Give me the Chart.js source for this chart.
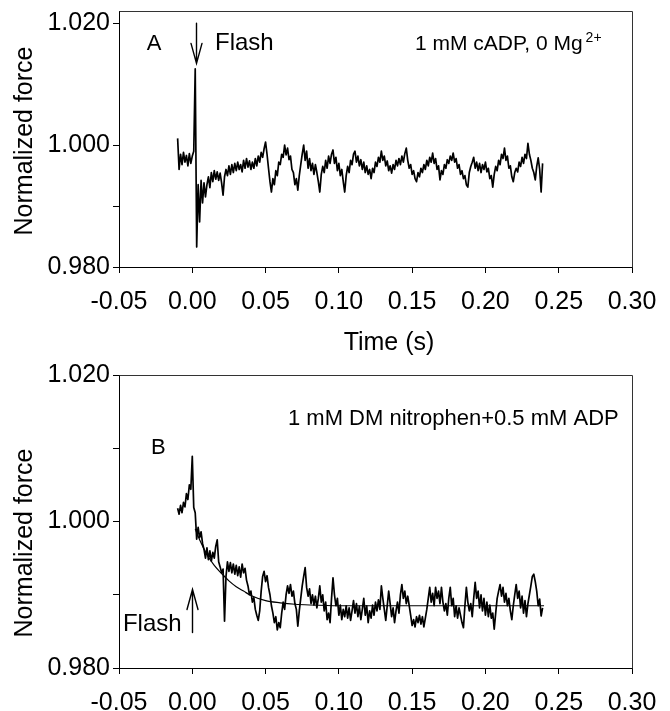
<!DOCTYPE html>
<html><head><meta charset="utf-8">
<script src="https://cdn.jsdelivr.net/npm/chart.js@4.4.1/dist/chart.umd.min.js"></script>
<style>
html,body{margin:0;padding:0;background:#fff;}
#wrap{width:670px;height:711px;position:relative;overflow:hidden;}
canvas{display:block;}
</style></head><body>
<div id="wrap">
<canvas id="cA" width="670" height="362"></canvas>
<canvas id="cB" width="670" height="349"></canvas>
</div>
<script>
// ---------- data ----------
const xTicks = [-0.05, 0, 0.05, 0.10, 0.15, 0.20, 0.25, 0.30];
const xTickLabels = ['-0.05','0.00','0.05','0.10','0.15','0.20','0.25','0.30'];
const yTicksA = [0.98, 0.99, 1.00, 1.02];
const yTickLabelsA = ['0.980','','1.000','1.020'];
const yTicksB = [0.98, 0.99, 1.00, 1.01, 1.02];
const yTickLabelsB = ['0.980','','1.000','','1.020'];

const traceStartA = -0.010, traceStepA = 0.001;
const forceA = [
1.0011,0.9960,0.9985,0.9968,0.9988,0.9972,0.9983,0.9966,0.9986,0.9970,
0.9982,0.9990,1.0125,0.9833,0.9935,0.9874,0.9942,0.9905,0.9938,0.9915,
0.9935,0.9948,0.9930,0.9955,0.9940,0.9958,0.9944,0.9956,0.9942,0.9954,
0.9938,0.9918,0.9948,0.9960,0.9950,0.9966,0.9952,0.9968,0.9955,0.9970,
0.9958,0.9972,0.9960,0.9968,0.9956,0.9975,0.9962,0.9978,0.9964,0.9974,
0.9960,0.9972,0.9962,0.9978,0.9966,0.9982,0.9972,0.9988,0.9980,0.9994,
1.0005,0.9985,0.9962,0.9940,0.9923,0.9945,0.9935,0.9958,0.9950,0.9972,
0.9968,0.9985,0.9980,1.0000,0.9984,0.9995,0.9976,0.9982,0.9960,0.9955,
0.9935,0.9945,0.9926,0.9950,0.9968,0.9985,1.0000,0.9975,0.9990,0.9962,
0.9978,0.9958,0.9970,0.9952,0.9968,0.9955,0.9940,0.9923,0.9952,0.9965,
0.9955,0.9975,0.9962,0.9982,0.9970,0.9985,0.9992,0.9970,0.9980,0.9958,
0.9970,0.9950,0.9960,0.9940,0.9923,0.9950,0.9965,0.9955,0.9975,0.9968,
0.9985,0.9990,0.9972,0.9982,0.9966,0.9976,0.9960,0.9972,0.9955,0.9966,
0.9952,0.9960,0.9945,0.9962,0.9955,0.9972,0.9965,0.9980,0.9972,0.9990,
0.9975,0.9982,0.9966,0.9974,0.9958,0.9966,0.9954,0.9968,0.9960,0.9975,
0.9966,0.9978,0.9968,0.9982,0.9972,0.9986,0.9995,0.9975,0.9962,0.9968,
0.9952,0.9958,0.9945,0.9940,0.9955,0.9948,0.9962,0.9955,0.9968,0.9960,
0.9975,0.9966,0.9980,0.9972,0.9987,0.9970,0.9978,0.9960,0.9966,0.9943,
0.9958,0.9952,0.9968,0.9962,0.9976,0.9970,0.9982,0.9975,0.9987,0.9972,
0.9978,0.9962,0.9968,0.9952,0.9958,0.9945,0.9950,0.9935,0.9931,0.9955,
0.9965,0.9972,0.9980,0.9962,0.9972,0.9958,0.9970,0.9955,0.9968,0.9960,
0.9972,0.9956,0.9962,0.9945,0.9950,0.9931,0.9952,0.9965,0.9958,0.9975,
0.9968,0.9985,0.9978,0.9995,0.9975,0.9982,0.9962,0.9966,0.9948,0.9940,
0.9955,0.9962,0.9956,0.9972,0.9965,0.9980,0.9970,0.9985,0.9978,1.0003,
0.9985,0.9975,0.9962,0.9955,0.9943,0.9965,0.9979,0.9960,0.9923,0.9970
];

const traceStartB = -0.010, traceStepB = 0.001;
const forceB = [
1.0018,1.0010,1.0022,1.0012,1.0026,1.0020,1.0038,1.0030,1.0050,1.0044,
1.0089,1.0019,1.0012,0.9976,0.9992,0.9978,0.9986,0.9970,0.9962,0.9950,
0.9964,0.9948,0.9960,0.9946,0.9958,0.9950,0.9966,0.9975,0.9945,0.9938,
0.9930,0.9935,0.9864,0.9925,0.9945,0.9932,0.9944,0.9930,0.9942,0.9928,
0.9940,0.9926,0.9938,0.9924,0.9942,0.9930,0.9936,0.9920,0.9912,0.9900,
0.9905,0.9890,0.9896,0.9880,0.9872,0.9865,0.9878,0.9905,0.9925,0.9932,
0.9918,0.9926,0.9910,0.9900,0.9885,0.9875,0.9862,0.9870,0.9852,0.9862,
0.9855,0.9875,0.9890,0.9880,0.9900,0.9912,0.9902,0.9914,0.9898,0.9905,
0.9888,0.9880,0.9857,0.9878,0.9895,0.9912,0.9925,0.9937,0.9910,0.9898,
0.9908,0.9888,0.9900,0.9886,0.9898,0.9882,0.9895,0.9912,0.9890,0.9900,
0.9878,0.9890,0.9866,0.9875,0.9862,0.9895,0.9923,0.9900,0.9885,0.9895,
0.9872,0.9886,0.9866,0.9880,0.9870,0.9885,0.9868,0.9882,0.9865,0.9878,
0.9892,0.9875,0.9888,0.9870,0.9884,0.9866,0.9880,0.9895,0.9872,0.9885,
0.9862,0.9878,0.9868,0.9886,0.9872,0.9890,0.9878,0.9893,0.9880,0.9912,
0.9895,0.9880,0.9865,0.9885,0.9905,0.9888,0.9870,0.9882,0.9862,0.9878,
0.9890,0.9875,0.9900,0.9914,0.9895,0.9905,0.9888,0.9898,0.9885,0.9872,
0.9858,0.9866,0.9856,0.9870,0.9862,0.9872,0.9860,0.9870,0.9856,0.9868,
0.9880,0.9895,0.9910,0.9890,0.9902,0.9885,0.9910,0.9895,0.9905,0.9888,
0.9910,0.9890,0.9878,0.9888,0.9872,0.9895,0.9910,0.9885,0.9895,0.9870,
0.9885,0.9868,0.9882,0.9872,0.9862,0.9855,0.9885,0.9910,0.9890,0.9878,
0.9888,0.9870,0.9895,0.9917,0.9895,0.9905,0.9882,0.9900,0.9878,0.9895,
0.9872,0.9890,0.9870,0.9886,0.9868,0.9875,0.9853,0.9875,0.9895,0.9905,
0.9914,0.9898,0.9910,0.9890,0.9902,0.9885,0.9895,0.9878,0.9866,0.9885,
0.9900,0.9914,0.9895,0.9905,0.9882,0.9898,0.9875,0.9892,0.9870,0.9888,
0.9900,0.9912,0.9925,0.9928,0.9918,0.9905,0.9885,0.9894,0.9871,0.9882
];

const fitTimeB  = [0.002,0.005,0.010,0.015,0.020,0.025,0.030,0.035,0.040,0.050,0.060,0.070,0.080,0.100,0.150,0.200,0.240];
const fitForceB = [0.9990,0.9975,0.9955,0.9940,0.9929,0.9919,0.9911,0.9905,0.9899,0.9892,0.9889,0.9887,0.9886,0.9885,0.9885,0.9885,0.9885];

// ---------- rendering ----------
const FONT = '"Liberation Sans", Arial, Helvetica, sans-serif';

function toPoints(start, step, arr) {
  return arr.map((v, i) => ({ x: +(start + i * step).toFixed(4), y: v }));
}

function makeScales(yTicks, yLabels, yMin, yMax, xHeight) {
  return {
    x: {
      type: 'linear', min: -0.05, max: 0.30,
      afterBuildTicks: s => { s.ticks = xTicks.map(v => ({ value: v })); },
      afterFit: s => { s.height = xHeight; s.paddingLeft = 0; s.paddingRight = 0; },
      ticks: { callback: (v, i) => xTickLabels[i], font: { family: FONT, size: 25 }, color: '#000', padding: 14, maxRotation: 0, autoSkip: false },
      grid: { drawOnChartArea: false, drawTicks: true, tickLength: 6, color: '#000', lineWidth: 1 },
      border: { display: true, color: '#000', width: 1 }
    },
    y: {
      type: 'linear', min: yMin, max: yMax,
      afterBuildTicks: s => { s.ticks = yTicks.map(v => ({ value: v })); },
      afterFit: s => { s.width = 119; s.paddingTop = 0; s.paddingBottom = 0; },
      ticks: { callback: (v, i) => yLabels[i], font: { family: FONT, size: 25 }, color: '#000', padding: 3, autoSkip: false },
      grid: { drawOnChartArea: false, drawTicks: true, tickLength: 6, color: '#000', lineWidth: 1 },
      border: { display: true, color: '#000', width: 1 }
    }
  };
}

const annotPlugin = {
  id: 'annot',
  afterDraw(chart, args, opts) {
    const { ctx, chartArea: ca } = chart;
    const xs = chart.scales.x, ys = chart.scales.y;
    ctx.save();
    // top & right frame
    ctx.strokeStyle = '#333'; ctx.lineWidth = 1;
    ctx.beginPath();
    const L = Math.round(ca.left) + 0.5, R = Math.round(ca.right) + 0.5;
    const T = Math.round(ca.top) + 0.5, B = Math.round(ca.bottom) + 0.5;
    ctx.moveTo(L, T); ctx.lineTo(R, T); ctx.lineTo(R, B);
    ctx.stroke();
    ctx.fillStyle = '#000';
    // texts in data coordinates
    (opts.texts || []).forEach(it => {
      ctx.font = it.size + 'px ' + FONT;
      ctx.textAlign = it.align || 'left';
      ctx.textBaseline = 'alphabetic';
      const px = xs.getPixelForValue(it.t), py = ys.getPixelForValue(it.v);
      ctx.fillText(it.text, px, py);
      if (it.sup) {
        const w = ctx.measureText(it.text).width;
        ctx.font = it.supSize + 'px ' + FONT;
        ctx.textAlign = 'left';
        ctx.fillText(it.sup, px + w + 3, py - it.supRise);
      }
    });
    // arrows
    ctx.strokeStyle = '#000'; ctx.lineWidth = 1.4; ctx.lineCap = 'round';
    (opts.arrows || []).forEach(a => {
      const px = Math.round(xs.getPixelForValue(a.t)) + 0.5;
      const y0 = ys.getPixelForValue(a.from), y1 = ys.getPixelForValue(a.to);
      const dir = y1 > y0 ? 1 : -1;
      ctx.beginPath();
      ctx.moveTo(px, y0); ctx.lineTo(px, y1);
      ctx.moveTo(px - 5.5, y1 - dir * 20); ctx.lineTo(px, y1); ctx.lineTo(px + 5.5, y1 - dir * 20);
      ctx.stroke();
    });
    // axis titles (canvas coords)
    (opts.titles || []).forEach(tt => {
      ctx.save();
      ctx.font = tt.size + 'px ' + FONT;
      ctx.textAlign = 'center'; ctx.textBaseline = 'middle';
      ctx.translate(tt.x, tt.y);
      if (tt.rot) ctx.rotate(-Math.PI / 2);
      ctx.fillText(tt.text, 0, 0);
      ctx.restore();
    });
    ctx.restore();
  }
};

const commonOpts = {
  responsive: false, animation: false, devicePixelRatio: 1,
  plugins: { legend: { display: false }, tooltip: { enabled: false } }
};

new Chart(document.getElementById('cA'), {
  type: 'line',
  data: { datasets: [{
    data: toPoints(traceStartA, traceStepA, forceA),
    borderColor: '#000', borderWidth: 1.7, pointRadius: 0, tension: 0, borderJoinStyle: 'round', fill: false
  }]},
  options: Object.assign({}, commonOpts, {
    layout: { padding: { left: 0, right: 38, top: 11, bottom: 0 } },
    scales: makeScales(yTicksA, yTickLabelsA, 0.98, 1.022, 95),
    plugins: Object.assign({}, commonOpts.plugins, {
      annot: {
        texts: [
          { t: -0.0261, v: 1.01557, text: 'A', size: 22, align: 'center' },
          { t: 0.0155, v: 1.01557, text: 'Flash', size: 24, align: 'left' },
          { t: 0.1519, v: 1.01557, text: '1 mM cADP, 0 Mg', size: 21, align: 'left', sup: '2+', supSize: 14, supRise: 8 }
        ],
        arrows: [ { t: 0.0025, from: 1.0200, to: 1.0134 } ],
        titles: [
          { text: 'Normalized force', x: 25, y: 141, rot: true, size: 25 },
          { text: 'Time (s)', x: 389, y: 343, size: 25 }
        ]
      }
    })
  }),
  plugins: [annotPlugin]
});

new Chart(document.getElementById('cB'), {
  type: 'line',
  data: { datasets: [
    { data: toPoints(traceStartB, traceStepB, forceB),
      borderColor: '#000', borderWidth: 1.7, pointRadius: 0, tension: 0, borderJoinStyle: 'round', fill: false },
    { data: fitTimeB.map((t, i) => ({ x: t, y: fitForceB[i] })),
      borderColor: '#000', borderWidth: 1.2, pointRadius: 0, cubicInterpolationMode: 'monotone', fill: false }
  ]},
  options: Object.assign({}, commonOpts, {
    layout: { padding: { left: 0, right: 38, top: 13, bottom: 0 } },
    scales: makeScales(yTicksB, yTickLabelsB, 0.98, 1.02, 43),
    plugins: Object.assign({}, commonOpts.plugins, {
      annot: {
        texts: [
          { t: 0.0653, v: 1.01324, text: '1 mM DM nitrophen+0.5 mM ADP', size: 22, align: 'left' },
          { t: -0.0231, v: 1.00924, text: 'B', size: 22, align: 'center' },
          { t: -0.0473, v: 0.98502, text: 'Flash', size: 24, align: 'left' }
        ],
        arrows: [ { t: 0.0, from: 0.98485, to: 0.99072 } ],
        titles: [
          { text: 'Normalized force', x: 25, y: 181, rot: true, size: 25 }
        ]
      }
    })
  }),
  plugins: [annotPlugin]
});
</script>
</body></html>
